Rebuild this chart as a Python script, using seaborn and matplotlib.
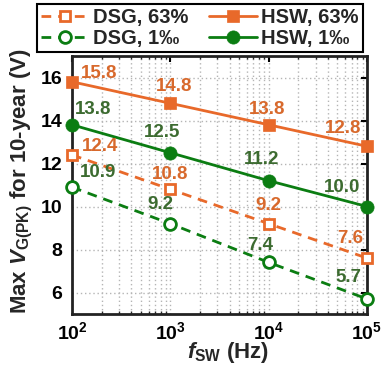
import numpy as np
import pandas as pd
import matplotlib
matplotlib.use("Agg")
import matplotlib.pyplot as plt
import seaborn as sns
from matplotlib.ticker import LogLocator, NullFormatter, FixedLocator

# ---- data ----
freq = [1e2, 1e3, 1e4, 1e5]
dsg_63 = [12.4, 10.8, 9.2, 7.6]
hsw_63 = [15.8, 14.8, 13.8, 12.8]
dsg_1 = [10.9, 9.2, 7.4, 5.7]
hsw_1 = [13.8, 12.5, 11.2, 10.0]
series_labels = ["DSG, 63%", "DSG, 1\u2030", "HSW, 63%", "HSW, 1\u2030"]
xtick_vals = [1e2, 1e3, 1e4, 1e5]
xtick_labels = [r"$\mathbf{10^{2}}$", r"$\mathbf{10^{3}}$", r"$\mathbf{10^{4}}$", r"$\mathbf{10^{5}}$"]
ytick_vals = [6, 8, 10, 12, 14, 16]

sns.set_theme(style="white")
plt.rcParams["font.family"] = ["Liberation Sans", "DejaVu Sans"]
plt.rcParams["font.weight"] = "bold"
plt.rcParams["mathtext.fontset"] = "custom"
plt.rcParams["mathtext.rm"] = "Liberation Sans:bold"
plt.rcParams["mathtext.bf"] = "Liberation Sans:bold"
plt.rcParams["mathtext.it"] = "Liberation Sans:italic:bold"
plt.rcParams["mathtext.default"] = "rm"

ORANGE = "#E8692A"
ORANGE_T = "#D8692C"
GREEN = "#0B7D12"
GREEN_T = "#3C6B30"

fig = plt.figure(figsize=(3.87, 3.69), dpi=100)
ax = fig.add_axes([72/387, 1-314/369, (367-72)/387, (314-56)/369])

dash = (0, (3.5, 2.5))
specs = [
    (dsg_63, ORANGE, ORANGE_T, "s", dash, True),
    (dsg_1, GREEN, GREEN_T, "o", dash, True),
    (hsw_63, ORANGE, ORANGE_T, "s", "-", False),
    (hsw_1, GREEN, GREEN_T, "o", "-", False),
]
# annotation pixel offsets (dx, dy) per series per point
offsets = [
    [(28, 8), (0, 15), (0, 18), (-17, 20)],
    [(26, 15), (-10, 19), (-8, 17), (-19, 21)],
    [(27, 8), (4, 17), (-2, 15), (-24, 18)],
    [(21, 15), (-8, 20), (-7, 21), (-25, 19)],
]

handles = []
for (vals, c, tc, m, ls, hollow), lab, offs in zip(specs, series_labels, offsets):
    df = pd.DataFrame({"f": freq, "v": vals})
    ms = 8 if m == "s" else 9.5
    sns.lineplot(data=df, x="f", y="v", ax=ax, color=c, linestyle=ls, lw=2,
                 marker=m, markersize=(ms - 1 if hollow else ms),
                 markerfacecolor=("white" if hollow else c), markeredgecolor=c,
                 markeredgewidth=(2 if hollow else 0.5), clip_on=False,
                 zorder=3, legend=False)
    line = ax.lines[-1]
    handles.append(line)
    for x, v, (dx, dy) in zip(freq, vals, offs):
        ax.annotate(f"{v:.1f}", (x, v), xytext=(dx, dy), textcoords="offset pixels",
                    ha="center", va="center", color=tc, fontsize=13.5,
                    fontweight="bold", annotation_clip=False, zorder=4)

ax.set_xscale("log")
ax.set_xlim(1e2, 1e5)
ax.set_ylim(5, 17)
ax.xaxis.set_major_locator(FixedLocator(xtick_vals))
ax.set_xticklabels(xtick_labels)
ax.xaxis.set_minor_locator(LogLocator(base=10, subs=np.arange(2, 10)))
ax.xaxis.set_minor_formatter(NullFormatter())
ax.set_yticks(ytick_vals)
ax.set_yticklabels([str(t) for t in ytick_vals])

ax.tick_params(axis="both", which="major", direction="in", length=4, width=1.5,
               labelsize=14, top=True, right=True, colors="black")
ax.tick_params(axis="y", which="major", pad=7)
ax.tick_params(axis="x", which="major", pad=5)
ax.tick_params(axis="x", which="minor", direction="in", length=2, width=1,
               top=True, bottom=True)
for t in ax.get_xticklabels() + ax.get_yticklabels():
    t.set_fontweight("bold")

ax.grid(True, which="major", axis="both", color="#b5b5b5", linestyle=(0, (1, 2)), lw=1)
ax.grid(True, which="minor", axis="x", color="#b5b5b5", linestyle=(0, (1, 2)), lw=1)
for sp in ax.spines.values():
    sp.set_color("#222222")
    sp.set_linewidth(2)

ax.set_xlabel(r"$\mathit{f}_{\mathrm{SW}}$ (Hz)", fontsize=16, fontweight="bold")
ax.set_ylabel(r"Max $\mathit{V}_{\mathrm{G(PK)}}$ for 10-year (V)", fontsize=16, fontweight="bold")
ax.xaxis.set_label_coords(0.53, -0.10)
ax.yaxis.set_label_coords(-0.125, 0.515)

leg = fig.legend(handles=handles, labels=series_labels, loc="upper left",
                 bbox_to_anchor=(37/387, 1-4/369), ncol=2, fontsize=14.5,
                 frameon=True, fancybox=False, framealpha=1, edgecolor="black",
                 handlelength=2.4, handletextpad=0.2, columnspacing=1.0,
                 labelspacing=0.1, borderpad=0.2, borderaxespad=0)
leg.get_frame().set_linewidth(1.5)
for t in leg.get_texts():
    t.set_fontweight("bold")

fig.savefig("out.png", dpi=100)
